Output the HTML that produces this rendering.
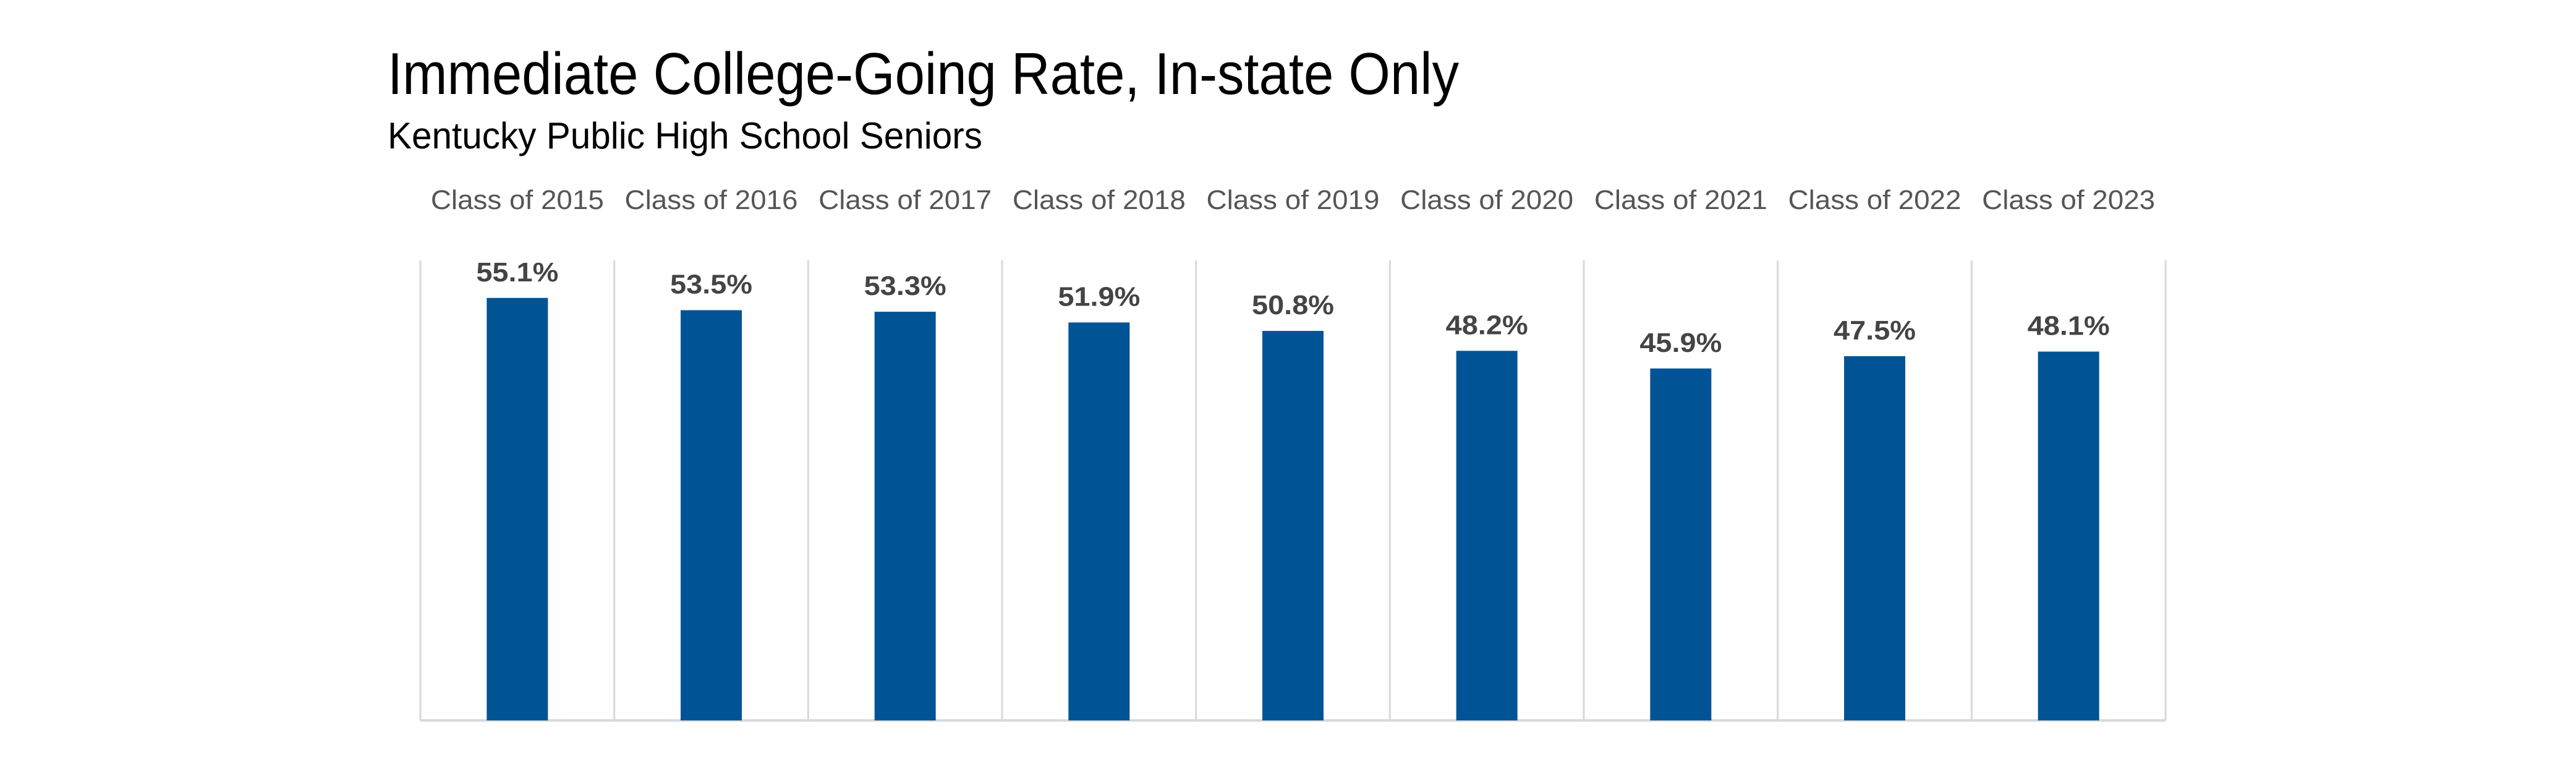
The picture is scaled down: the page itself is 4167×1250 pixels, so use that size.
<!DOCTYPE html>
<html><head><meta charset="utf-8"><style>
html,body{margin:0;padding:0;background:#fff}
svg{display:block}
text{font-family:"Liberation Sans",Arial,sans-serif}
</style></head><body>
<svg id="chart" width="4167" height="1250" viewBox="0 0 4167 1250" xmlns="http://www.w3.org/2000/svg">
<rect width="4167" height="1250" fill="#fff"/>
<text x="627" y="152" font-size="96" fill="#000" textLength="1733" lengthAdjust="spacingAndGlyphs">Immediate College-Going Rate, In-state Only</text>
<text x="627" y="240" font-size="60" fill="#000" textLength="962" lengthAdjust="spacingAndGlyphs">Kentucky Public High School Seniors</text>
<g id="plot"></g>
</svg>
<script>
const categories = ["Class of 2015","Class of 2016","Class of 2017","Class of 2018","Class of 2019","Class of 2020","Class of 2021","Class of 2022","Class of 2023"];
const values = [55.1,53.5,53.3,51.9,50.8,48.2,45.9,47.5,48.1];
const valueLabels = ["55.1%","53.5%","53.3%","51.9%","50.8%","48.2%","45.9%","47.5%","48.1%"];

const NS = "http://www.w3.org/2000/svg";
const plotG = document.getElementById('plot');
const plotLeft = 680, plotRight = 3503, plotTop = 421, plotBottom = 1165, yMax = 60;
const pw = (plotRight - plotLeft) / categories.length;
const barW = 99;
function xCenter(i){ return plotLeft + pw * (i + 0.5); }
function yScale(v){ return plotBottom - (v / yMax) * (plotBottom - plotTop); }
function mk(tag, attrs){ const e = document.createElementNS(NS, tag); for (const k in attrs) e.setAttribute(k, attrs[k]); plotG.appendChild(e); return e; }

for (let i = 0; i <= categories.length; i++) {
  const x = plotLeft + pw * i;
  const l = mk('line', {x1:x, x2:x, y1:plotTop, y2:plotBottom, stroke:'#d9d9d9', 'stroke-width':3});
  
  
}
const base = mk('line', {x1:plotLeft, x2:plotRight, y1:plotBottom, y2:plotBottom, stroke:'#d9d9d9', 'stroke-width':4});



categories.forEach((c, i) => {
  const cx = xCenter(i);
  const t = mk('text', {x:cx, y:338, 'font-size':44, fill:'#555', 'text-anchor':'middle', textLength:280, lengthAdjust:'spacingAndGlyphs'});
  t.textContent = c;
  
  
  const y = yScale(values[i]);
  const r = mk('rect', {x:cx - barW/2, y:y, width:barW, height:plotBottom - y, fill:'#005496'});
  
  
  const v = mk('text', {x:cx, y:y - 27, 'font-size':44, 'font-weight':'bold', fill:'#444', 'text-anchor':'middle', textLength:133, lengthAdjust:'spacingAndGlyphs'});
  v.textContent = valueLabels[i];
  
  
});
</script>
</body></html>
